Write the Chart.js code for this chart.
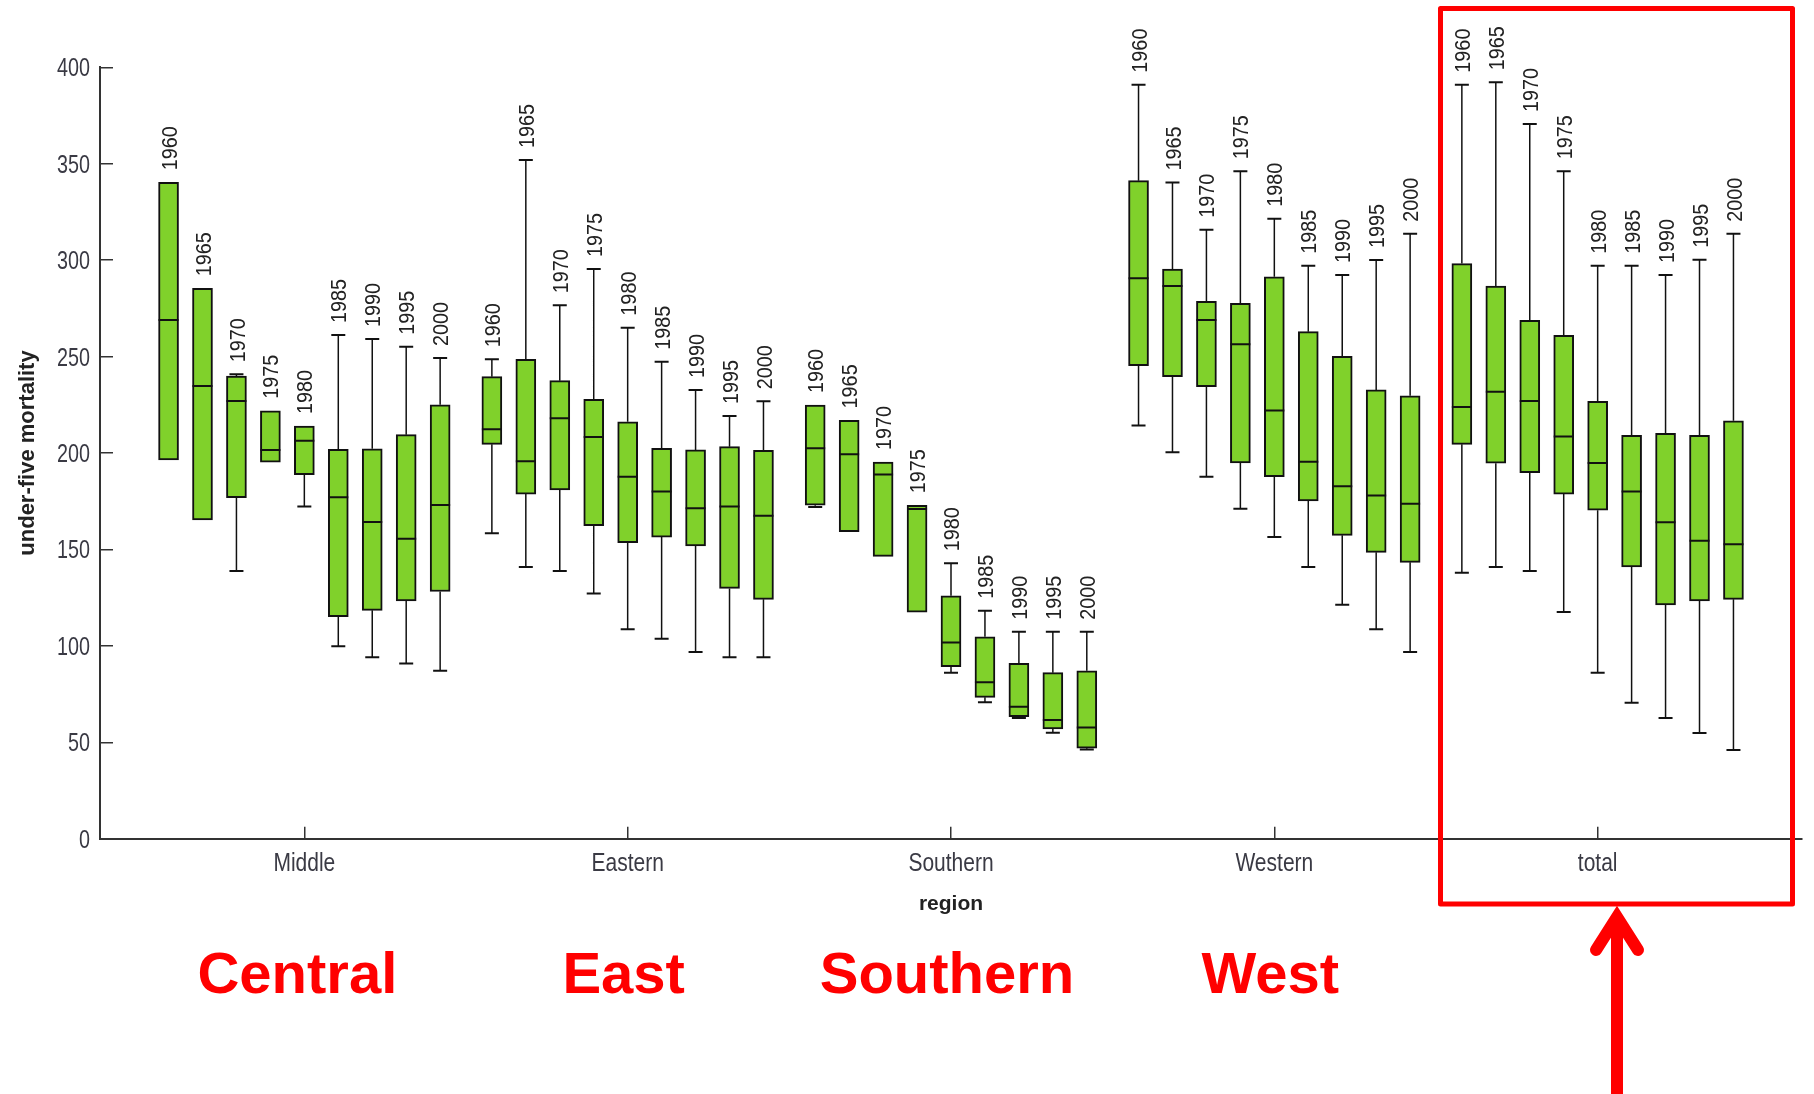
<!DOCTYPE html>
<html>
<head>
<meta charset="utf-8">
<title>Under-five mortality by region, 1960–2000</title>
<script src="https://cdn.jsdelivr.net/npm/chart.js@4/dist/chart.umd.min.js"></script>
<style>
  html, body { margin: 0; padding: 0; background: #ffffff; }
  #wrap { width: 1814px; height: 1094px; }
</style>
</head>
<body>
<div id="wrap"><canvas id="chart" width="1814" height="1094"></canvas></div>
<script>
// Regions on the x axis and the survey years shown inside every region
const regions = ['Middle', 'Eastern', 'Southern', 'Western', 'total'];
const years = ['1960', '1965', '1970', '1975', '1980', '1985', '1990', '1995', '2000'];
const yTicks = [0, 50, 100, 150, 200, 250, 300, 350, 400];

// Red region names written under the axis
const regionNames = ['Central', 'East', 'Southern', 'West'];

// Box-plot statistics, one row per region, one value per year
const lowerWhisker = [
  [196.4, 165.3, 138.8, 195.3, 172.2, 99.8, 94.1, 90.9, 87.1],
  [158.4, 140.9, 138.8, 127.2, 108.6, 103.7, 96.8, 94.1, 94.1],
  [172.0, 159.2, 146.4, 117.4, 86.1, 70.7, 62.6, 55.0, 46.3],
  [214.2, 200.4, 187.7, 171.1, 156.4, 140.9, 121.3, 108.6, 96.8],
  [137.9, 140.9, 138.8, 117.6, 86.1, 70.5, 62.6, 54.8, 46.0]
];
const lowerQuartile = [
  [196.4, 165.3, 176.8, 195.3, 188.8, 115.1, 118.4, 123.3, 128.2],
  [204.5, 178.7, 180.8, 162.3, 153.5, 156.4, 151.8, 129.8, 124.1],
  [172.9, 159.2, 146.4, 117.4, 89.2, 73.3, 63.3, 56.9, 46.9],
  [245.3, 239.6, 234.4, 194.8, 187.7, 175.1, 157.3, 148.5, 143.3],
  [204.5, 194.7, 189.8, 178.7, 170.3, 140.9, 121.2, 123.3, 124.1]
];
const medianValues = [
  [269.0, 234.7, 227.0, 201.6, 206.4, 177.0, 164.2, 155.6, 173.0],
  [212.3, 195.7, 218.0, 208.3, 187.7, 180.1, 171.3, 172.2, 167.4],
  [202.4, 199.3, 188.8, 171.0, 101.8, 81.1, 68.4, 61.6, 57.7],
  [290.6, 286.6, 269.0, 256.4, 222.1, 195.5, 182.7, 177.9, 173.7],
  [223.9, 231.8, 227.0, 208.5, 194.8, 180.1, 164.1, 154.5, 152.7]
];
const upperQuartile = [
  [340.4, 285.4, 239.9, 221.9, 214.0, 201.9, 202.2, 209.5, 225.0],
  [239.6, 248.6, 237.5, 227.8, 216.2, 202.4, 201.6, 203.3, 201.4],
  [224.9, 216.9, 195.3, 172.9, 126.0, 104.7, 90.9, 86.1, 87.1],
  [341.2, 295.4, 278.7, 277.6, 291.4, 262.9, 250.1, 232.7, 229.7],
  [298.2, 286.6, 268.8, 261.0, 226.8, 209.2, 210.2, 209.2, 216.7]
];
const upperWhisker = [
  [340.4, 285.4, 240.8, 221.9, 214.0, 261.2, 259.1, 255.1, 249.3],
  [248.6, 351.9, 276.6, 295.4, 265.0, 247.3, 232.7, 219.2, 226.8],
  [224.9, 216.9, 195.3, 172.9, 142.8, 118.2, 107.3, 107.3, 107.3],
  [391.0, 340.2, 315.8, 346.1, 321.5, 297.1, 292.3, 300.1, 313.7],
  [391.0, 392.2, 370.6, 346.1, 297.1, 297.1, 292.3, 300.2, 313.7]
];

// Spacing of neighbouring boxes, in region units
const boxStep = 0.105;
const boxX = (r, j) => r + (j - (years.length - 1) / 2) * boxStep;

const SANS = "'Liberation Sans', Arial, sans-serif";
const GREEN = '#80d12b';
const INK = '#111111';
const AXIS = '#333333';
const LABEL = '#3a3a44';

// Split the statistics into the pieces drawn by each dataset
const boxes = [], whiskers = [], caps = [], medians = [], yearLabels = [];
regions.forEach((reg, r) => {
  years.forEach((yr, j) => {
    const x = boxX(r, j);
    const lo = lowerWhisker[r][j], q1 = lowerQuartile[r][j];
    const md = medianValues[r][j];
    const q3 = upperQuartile[r][j], hi = upperWhisker[r][j];
    boxes.push({ x, y: [q1, q3] });
    medians.push({ x, y: md });
    if (hi > q3) {
      whiskers.push({ x, y: hi }, { x, y: q3 }, { x, y: null });
      caps.push({ x, y: hi });
    }
    if (lo < q1) {
      whiskers.push({ x, y: q1 }, { x, y: lo }, { x, y: null });
      caps.push({ x, y: lo });
    }
    yearLabels.push({ x, y: Math.max(hi, q3), text: yr });
  });
});

// Draw text squeezed horizontally (condensed look) at a point, optionally rotated
function condensedText(ctx, text, px, py, squeeze, rotate) {
  ctx.save();
  ctx.translate(px, py);
  if (rotate) ctx.rotate(rotate);
  ctx.scale(squeeze, 1);
  ctx.fillText(text, 0, 0);
  ctx.restore();
}

// Condensed axis tick labels and rotated year labels above each box
const labelPlugin = {
  id: 'condensedLabels',
  afterDatasetsDraw(chart) {
    const { ctx, scales: { x, y } } = chart;
    ctx.save();
    ctx.fillStyle = LABEL;

    ctx.font = '25px ' + SANS;
    ctx.textAlign = 'right';
    ctx.textBaseline = 'alphabetic';
    y.ticks.forEach(t => condensedText(ctx, String(t.value), x.left - 10, y.getPixelForValue(t.value) + 9, 0.79));

    ctx.textAlign = 'center';
    x.ticks.forEach(t => condensedText(ctx, regions[t.value], x.getPixelForValue(t.value), y.bottom + 32, 0.84));

    ctx.fillStyle = '#222222';
    ctx.font = '22px ' + SANS;
    ctx.textAlign = 'left';
    ctx.textBaseline = 'middle';
    yearLabels.forEach(l => condensedText(ctx, l.text,
      x.getPixelForValue(l.x) + 2, y.getPixelForValue(l.y) - 12, 0.9, -Math.PI / 2));
    ctx.restore();
  }
};

// Red call-outs: region names, frame around the "total" group and the arrow
const calloutPlugin = {
  id: 'callouts',
  afterDraw(chart) {
    const { ctx, scales: { x } } = chart;
    ctx.save();
    ctx.fillStyle = '#ff0000';
    ctx.font = 'bold 58px ' + SANS;
    ctx.textAlign = 'center';
    ctx.textBaseline = 'alphabetic';
    regionNames.forEach((t, i) => ctx.fillText(t, x.getPixelForValue(i) - (i === 0 ? 7 : 4), 993));

    ctx.strokeStyle = '#ff0000';
    ctx.lineWidth = 5;
    ctx.lineJoin = 'round';
    ctx.strokeRect(1440.5, 8.5, 352, 895.5);

    ctx.lineWidth = 12;
    ctx.lineCap = 'butt';
    ctx.beginPath();
    ctx.moveTo(1617, 1094);
    ctx.lineTo(1617, 915);
    ctx.stroke();
    ctx.lineCap = 'round';
    ctx.lineJoin = 'miter';
    ctx.beginPath();
    ctx.moveTo(1596, 950);
    ctx.lineTo(1617, 917);
    ctx.lineTo(1638, 950);
    ctx.stroke();
    ctx.restore();
  }
};

new Chart(document.getElementById('chart'), {
  type: 'bar',
  data: {
    datasets: [
      {
        type: 'line', data: whiskers, borderColor: INK, borderWidth: 1.5,
        pointRadius: 0, spanGaps: false, tension: 0, order: 4
      },
      {
        type: 'bar', data: boxes, backgroundColor: GREEN, borderColor: INK,
        borderWidth: 2, borderSkipped: false, barThickness: 20, grouped: false, order: 3
      },
      {
        type: 'line', data: caps, showLine: false, pointStyle: 'line',
        pointRadius: 7, pointHoverRadius: 7, pointBorderWidth: 2, pointBorderColor: INK, order: 2
      },
      {
        type: 'line', data: medians, showLine: false, pointStyle: 'line',
        pointRadius: 10, pointHoverRadius: 10, pointBorderWidth: 2, pointBorderColor: INK, order: 1
      }
    ]
  },
  options: {
    responsive: false,
    devicePixelRatio: 1,
    animation: false,
    events: [],
    layout: { padding: { top: 67.3, left: 0, right: 6, bottom: 155.3 } },
    plugins: { legend: { display: false }, tooltip: { enabled: false } },
    scales: {
      x: {
        type: 'linear',
        min: -0.632,
        max: 4.632,
        offset: false,
        afterBuildTicks: s => { s.ticks = regions.map((_, i) => ({ value: i })); },
        afterFit: s => { s.height = 100; },
        grid: { drawOnChartArea: false, offset: false, tickLength: -12, color: AXIS, lineWidth: 1.5 },
        border: { display: true, color: AXIS, width: 2 },
        ticks: { display: false, autoSkip: false },
        title: {
          display: true, text: 'region', color: '#222222',
          font: { family: SANS, size: 21, weight: 'bold' },
          padding: { top: 0, bottom: 22 }
        }
      },
      y: {
        min: 0,
        max: 400,
        afterBuildTicks: s => { s.ticks = yTicks.map(v => ({ value: v })); },
        afterFit: s => { s.width = 100; },
        grid: { drawOnChartArea: false, tickLength: -13, color: AXIS, lineWidth: 1.5 },
        border: { display: true, color: AXIS, width: 2 },
        ticks: { display: false },
        title: {
          display: true, text: 'under-five mortality', color: '#222222',
          font: { family: SANS, size: 22, weight: 'bold' },
          padding: { top: 15, bottom: 0 }
        }
      }
    }
  },
  plugins: [labelPlugin, calloutPlugin]
});
</script>
</body>
</html>
